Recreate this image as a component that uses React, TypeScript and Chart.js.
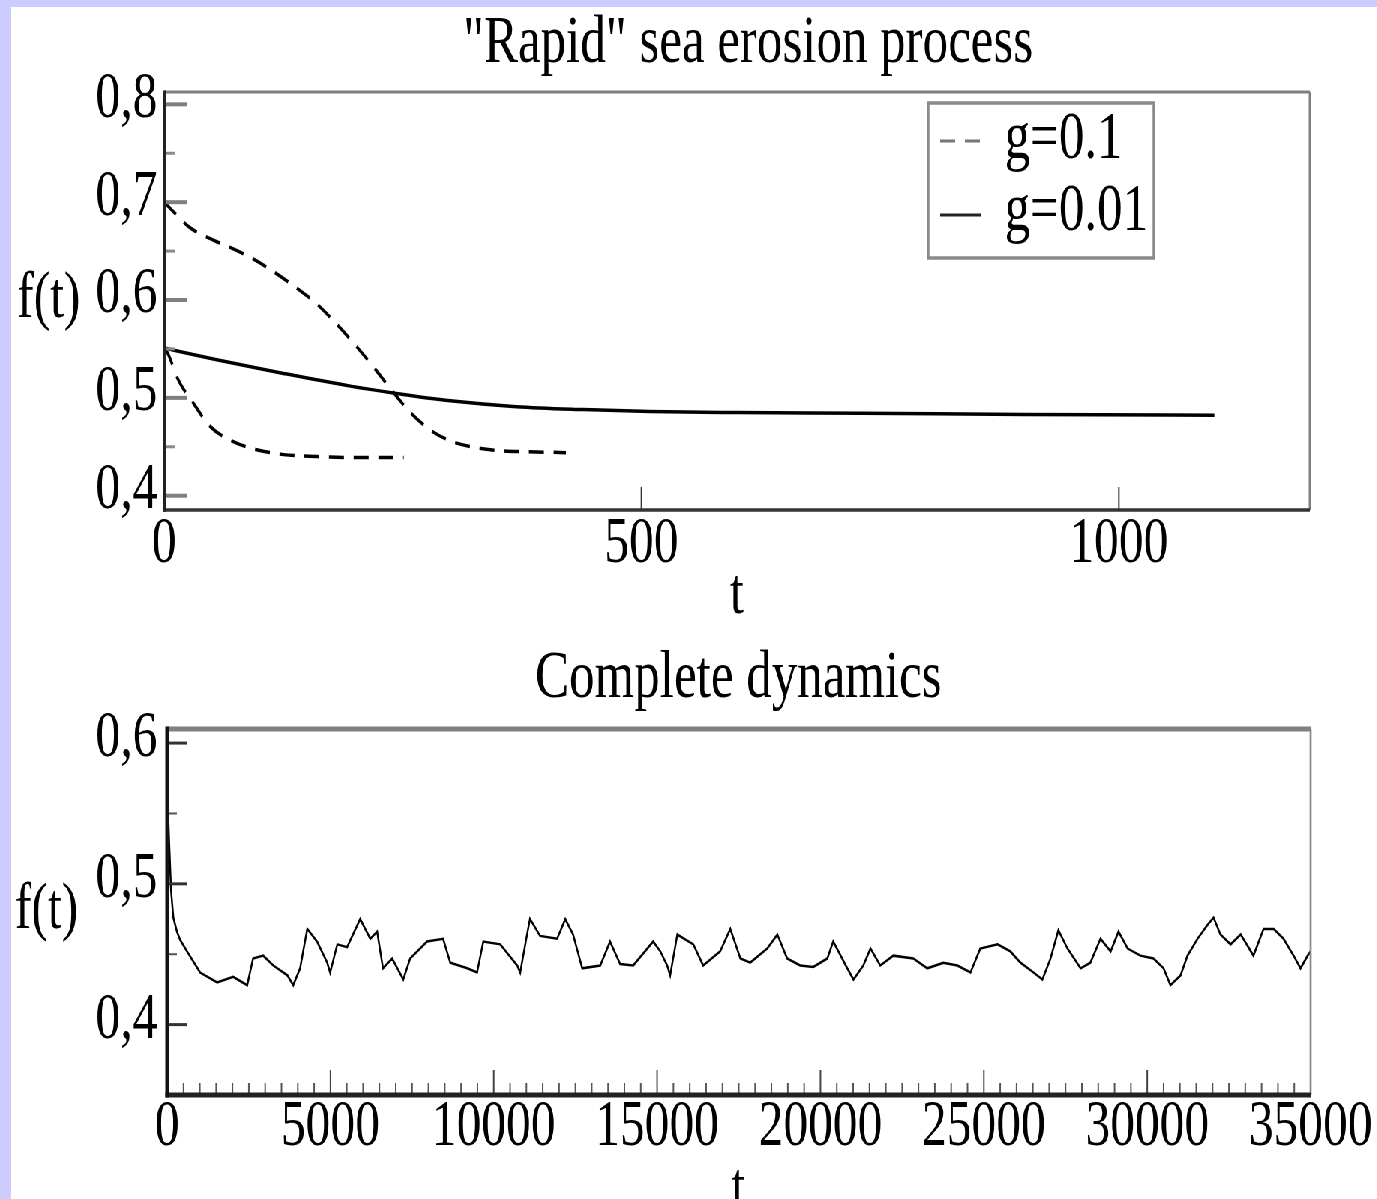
import React, { useEffect, useRef } from "react";
import { Chart, registerables } from "chart.js";

Chart.register(...registerables);

// horizontal compression of the whole figure (the reference is squeezed sideways)
const SX = 0.75;
const CW = 1821;
const TOP_H = 618;
const BOT_H = 574;
const SERIF = '"Liberation Serif", "Times New Roman", Times, serif';

// ---------------- texts ----------------
const rapidTitle = '"Rapid" sea erosion process';
const completeTitle = "Complete dynamics";
const yAxisTitle = "f(t)";
const xAxisTitle = "t";
const seriesLabels = ["g=0.1", "g=0.01"];

// ---------------- top chart: "Rapid" sea erosion process ----------------
const rapidXTicks = [0, 500, 1000];
const rapidYTicks = [0.4, 0.5, 0.6, 0.7, 0.8];

// g = 0.1, starting at 0.70
const g01UpperT = [0, 3, 27, 52, 73, 95, 116, 139, 161, 182, 202, 219, 235, 244, 258, 279, 300, 327, 352, 380, 421];
const g01UpperF = [0.7, 0.697, 0.674, 0.661, 0.652, 0.641, 0.628, 0.612, 0.595, 0.574, 0.552, 0.532, 0.512, 0.501, 0.485, 0.467, 0.456, 0.449, 0.446, 0.445, 0.444];
// g = 0.1, starting at 0.55
const g01LowerT = [0, 4, 15, 31, 48, 73, 97, 125, 160, 195, 251];
const g01LowerF = [0.551, 0.545, 0.518, 0.494, 0.471, 0.455, 0.447, 0.442, 0.44, 0.439, 0.439];
// g = 0.01
const g001T = [0, 55, 125, 195, 240, 300, 369, 439, 509, 600, 730, 900, 1100];
const g001F = [0.551, 0.539, 0.525, 0.512, 0.505, 0.497, 0.491, 0.488, 0.486, 0.485, 0.4843, 0.483, 0.4823];

// ---------------- bottom chart: Complete dynamics ----------------
const completeXTicks = [0, 5000, 10000, 15000, 20000, 25000, 30000, 35000];
const completeYTicks = [0.4, 0.5, 0.6];

const completeT = [
  0, 60, 120, 190, 300, 400, 610, 1010, 1530, 2020,
  2450, 2630, 2940, 3250, 3680, 3860, 4070, 4290, 4590, 4900,
  4990, 5210, 5510, 5910, 6220, 6430, 6610, 6890, 7230, 7440,
  7960, 8450, 8670, 9190, 9490, 9680, 10200, 10720, 10810, 11020,
  11110, 11420, 11940, 12190, 12430, 12710, 13260, 13560, 13870, 14270,
  14880, 15100, 15310, 15400, 15620, 16110, 16410, 16930, 17240, 17550,
  17850, 18370, 18680, 18980, 19380, 19780, 20210, 20390, 20820, 21010,
  21310, 21530, 21830, 22230, 22840, 23270, 23760, 24190, 24590, 24890,
  25420, 25810, 26120, 26520, 26790, 27040, 27280, 27560, 27960, 28260,
  28570, 28880, 29120, 29400, 29790, 30190, 30500, 30710, 31020, 31230,
  31540, 31850, 32030, 32240, 32550, 32860, 33250, 33560, 33870, 34170,
  34480, 34690, 34910, 35000,
];
const completeF = [
  0.572, 0.53, 0.495, 0.476, 0.466, 0.46, 0.452, 0.437, 0.43, 0.434,
  0.428, 0.447, 0.449, 0.442, 0.435, 0.428, 0.44, 0.468, 0.459, 0.444,
  0.437, 0.457, 0.455, 0.475, 0.461, 0.466, 0.44, 0.447, 0.432, 0.447,
  0.459, 0.461, 0.444, 0.44, 0.437, 0.459, 0.457, 0.442, 0.437, 0.464,
  0.475, 0.463, 0.461, 0.475, 0.464, 0.44, 0.442, 0.459, 0.443, 0.442,
  0.459, 0.452, 0.442, 0.435, 0.464, 0.457, 0.442, 0.452, 0.468, 0.447,
  0.444, 0.454, 0.464, 0.447, 0.442, 0.441, 0.447, 0.459, 0.44, 0.432,
  0.442, 0.454, 0.442, 0.449, 0.447, 0.44, 0.444, 0.442, 0.437, 0.454,
  0.457, 0.452, 0.444, 0.437, 0.432, 0.447, 0.467, 0.454, 0.44, 0.444,
  0.461, 0.452, 0.466, 0.454, 0.449, 0.447, 0.44, 0.428, 0.435, 0.449,
  0.461, 0.471, 0.476, 0.464, 0.457, 0.464, 0.449, 0.468, 0.468, 0.461,
  0.449, 0.44, 0.449, 0.452,
];

// ---------------- helpers ----------------
const zip = (xs: number[], ys: number[]) => xs.map((x, i) => ({ x, y: ys[i] }));
const commaFmt = (v: any) => Number(v).toFixed(1).replace(".", ",");

type Stroke = { len: number; width: number; color: string };
type Side = { width: number; color: string };
type FrameCfg = {
  top: Side; left: Side; right: Side; bottom: Side;
  yMajor: Stroke; yMinor: Stroke; yDiv: number;
  xMajor: Stroke; xMinor: Stroke; xDiv: number;
};

function framePlugin(cfg: FrameCfg) {
  return {
    id: "frameTicks",
    afterDatasetsDraw(chart: any) {
      const { ctx, chartArea: a } = chart;
      const xs = chart.scales.x;
      const ys = chart.scales.y;
      ctx.save();
      ctx.lineCap = "butt";
      ctx.setLineDash([]);
      const line = (x0: number, y0: number, x1: number, y1: number, w: number, c: string) => {
        ctx.strokeStyle = c;
        ctx.lineWidth = w;
        ctx.beginPath();
        ctx.moveTo(x0, y0);
        ctx.lineTo(x1, y1);
        ctx.stroke();
      };
      const yv: number[] = ys.ticks.map((t: any) => t.value);
      yv.forEach((v) => {
        const p = ys.getPixelForValue(v);
        line(a.left, p, a.left + cfg.yMajor.len, p, cfg.yMajor.width, cfg.yMajor.color);
      });
      for (let i = 0; i < yv.length - 1; i++) {
        for (let k = 1; k < cfg.yDiv; k++) {
          const p = ys.getPixelForValue(yv[i] + ((yv[i + 1] - yv[i]) * k) / cfg.yDiv);
          line(a.left, p, a.left + cfg.yMinor.len, p, cfg.yMinor.width, cfg.yMinor.color);
        }
      }
      const xv: number[] = xs.ticks.map((t: any) => t.value);
      xv.forEach((v) => {
        const p = xs.getPixelForValue(v);
        if (p - a.left < 3 || a.right - p < 3) return;
        line(p, a.bottom, p, a.bottom - cfg.xMajor.len, cfg.xMajor.width, cfg.xMajor.color);
      });
      if (cfg.xDiv > 1) {
        for (let i = 0; i < xv.length - 1; i++) {
          for (let k = 1; k < cfg.xDiv; k++) {
            const p = xs.getPixelForValue(xv[i] + ((xv[i + 1] - xv[i]) * k) / cfg.xDiv);
            line(p, a.bottom, p, a.bottom - cfg.xMinor.len, cfg.xMinor.width, cfg.xMinor.color);
          }
        }
      }
      line(a.left, a.top, a.right, a.top, cfg.top.width, cfg.top.color);
      line(a.right, a.top, a.right, a.bottom, cfg.right.width, cfg.right.color);
      line(a.left - cfg.left.width / 2, a.bottom, a.right, a.bottom, cfg.bottom.width, cfg.bottom.color);
      line(a.left, a.top - cfg.top.width / 2, a.left, a.bottom + cfg.bottom.width / 2, cfg.left.width, cfg.left.color);
      ctx.restore();
    },
  };
}

type TextItem = { text: string; x: number; y: number; size: number; align: CanvasTextAlign };
function textPlugin(items: TextItem[]) {
  return {
    id: "freeText",
    afterDraw(chart: any) {
      const ctx = chart.ctx;
      ctx.save();
      ctx.fillStyle = "#000";
      ctx.textBaseline = "alphabetic";
      items.forEach((t) => {
        ctx.font = `${t.size}px ${SERIF}`;
        ctx.textAlign = t.align;
        ctx.fillText(t.text, t.x, t.y);
      });
      ctx.restore();
    },
  };
}

type LegendCfg = {
  left: number; top: number; right: number; bottom: number;
  sampleX0: number; sampleX1: number; textX: number;
  rowY: number[]; baseY: number[]; size: number;
};
function boxLegendPlugin(cfg: LegendCfg) {
  return {
    id: "boxLegend",
    afterDraw(chart: any) {
      const ctx = chart.ctx;
      const seen = new Set<string>();
      const entries = chart.data.datasets.filter((d: any) => {
        if (seen.has(d.label)) return false;
        seen.add(d.label);
        return true;
      });
      ctx.save();
      ctx.fillStyle = "#fff";
      ctx.fillRect(cfg.left, cfg.top, cfg.right - cfg.left, cfg.bottom - cfg.top);
      ctx.strokeStyle = "#8a8a8a";
      ctx.lineWidth = 3.5;
      ctx.strokeRect(cfg.left, cfg.top, cfg.right - cfg.left, cfg.bottom - cfg.top);
      entries.forEach((d: any, i: number) => {
        const dashed = Array.isArray(d.borderDash) && d.borderDash.length > 0;
        ctx.setLineDash(dashed ? d.borderDash : []);
        ctx.strokeStyle = dashed ? "#777" : "#222";
        ctx.lineWidth = 3;
        ctx.beginPath();
        ctx.moveTo(cfg.sampleX0, cfg.rowY[i]);
        ctx.lineTo(cfg.sampleX1, cfg.rowY[i]);
        ctx.stroke();
        ctx.setLineDash([]);
        ctx.fillStyle = "#000";
        ctx.font = `${cfg.size}px ${SERIF}`;
        ctx.textAlign = "left";
        ctx.textBaseline = "alphabetic";
        ctx.fillText(d.label, cfg.textX, cfg.baseY[i]);
      });
      ctx.restore();
    },
  };
}

const tickFont = { family: SERIF, size: 66, lineHeight: 1 };

function makeTopConfig(): any {
  const dash = [20, 13];
  return {
    type: "line",
    data: {
      datasets: [
        { label: seriesLabels[0], data: zip(g01UpperT, g01UpperF), borderDash: dash },
        { label: seriesLabels[0], data: zip(g01LowerT, g01LowerF), borderDash: dash },
        { label: seriesLabels[1], data: zip(g001T, g001F) },
      ].map((d) => ({
        ...d,
        borderColor: "#000",
        borderWidth: 3.5,
        pointRadius: 0,
        fill: false,
        cubicInterpolationMode: "monotone",
        borderCapStyle: "butt",
      })),
    },
    options: {
      animation: false,
      responsive: true,
      maintainAspectRatio: false,
      events: [],
      layout: { padding: { left: 0, top: 85, right: 89, bottom: 0 } },
      plugins: { legend: { display: false }, tooltip: { enabled: false }, title: { display: false } },
      scales: {
        x: {
          type: "linear",
          min: 0,
          max: 1200,
          grid: { display: false, drawTicks: false, tickLength: 0 },
          border: { display: false },
          afterBuildTicks: (s: any) => { s.ticks = rapidXTicks.map((value) => ({ value })); },
          afterFit: (s: any) => { s.height = 115; },
          ticks: { font: tickFont, color: "#000", padding: 2, maxRotation: 0, autoSkip: false, callback: (v: any) => String(v) },
        },
        y: {
          type: "linear",
          min: 0.3854,
          max: 0.8126,
          grid: { display: false, drawTicks: false, tickLength: 0 },
          border: { display: false },
          afterBuildTicks: (s: any) => { s.ticks = rapidYTicks.map((value) => ({ value })); },
          afterFit: (s: any) => { s.width = 204; },
          ticks: { font: tickFont, color: "#000", padding: 9, labelOffset: -5, autoSkip: false, callback: commaFmt },
        },
      },
    },
    plugins: [
      framePlugin({
        top: { width: 3, color: "#7f7f7f" },
        left: { width: 4, color: "#222" },
        right: { width: 3, color: "#7f7f7f" },
        bottom: { width: 3.5, color: "#333" },
        yMajor: { len: 30, width: 4, color: "#7f7f7f" },
        yMinor: { len: 15, width: 3, color: "#8a8a8a" },
        yDiv: 2,
        xMajor: { len: 23, width: 2, color: "#333" },
        xMinor: { len: 0, width: 0, color: "#000" },
        xDiv: 1,
      }),
      boxLegendPlugin({
        left: 1223, top: 96, right: 1524, bottom: 251,
        sampleX0: 1239, sampleX1: 1293, textX: 1325,
        rowY: [134, 208], baseY: [151, 223], size: 68,
      }),
      textPlugin([
        { text: rapidTitle, x: 983, y: 55, size: 68, align: "center" },
        { text: yAxisTitle, x: 8, y: 310, size: 66, align: "left" },
        { text: xAxisTitle, x: 968, y: 606, size: 66, align: "center" },
      ]),
    ],
  };
}

function makeBottomConfig(): any {
  return {
    type: "line",
    data: {
      datasets: [
        {
          label: "f(t)",
          data: zip(completeT, completeF),
          borderColor: "#000",
          borderWidth: 2.5,
          pointRadius: 0,
          fill: false,
          tension: 0,
        },
      ],
    },
    options: {
      animation: false,
      responsive: true,
      maintainAspectRatio: false,
      events: [],
      layout: { padding: { left: 0, top: 104, right: 88, bottom: 0 } },
      plugins: { legend: { display: false }, tooltip: { enabled: false }, title: { display: false } },
      scales: {
        x: {
          type: "linear",
          min: 0,
          max: 35000,
          grid: { display: false, drawTicks: false, tickLength: 0 },
          border: { display: false },
          afterBuildTicks: (s: any) => { s.ticks = completeXTicks.map((value) => ({ value })); },
          afterFit: (s: any) => { s.height = 104; },
          ticks: { font: tickFont, color: "#000", padding: 0, maxRotation: 0, autoSkip: false, callback: (v: any) => String(v) },
        },
        y: {
          type: "linear",
          min: 0.35,
          max: 0.61,
          grid: { display: false, drawTicks: false, tickLength: 0 },
          border: { display: false },
          afterBuildTicks: (s: any) => { s.ticks = completeYTicks.map((value) => ({ value })); },
          afterFit: (s: any) => { s.width = 208; },
          ticks: { font: tickFont, color: "#000", padding: 13, labelOffset: -4, autoSkip: false, callback: commaFmt },
        },
      },
    },
    plugins: [
      framePlugin({
        top: { width: 5, color: "#7f7f7f" },
        left: { width: 5, color: "#111" },
        right: { width: 2.7, color: "#888" },
        bottom: { width: 5, color: "#222" },
        yMajor: { len: 26, width: 3, color: "#333" },
        yMinor: { len: 13, width: 2, color: "#555" },
        yDiv: 2,
        xMajor: { len: 25, width: 2, color: "#444" },
        xMinor: { len: 12, width: 2, color: "#555" },
        xDiv: 10,
      }),
      textPlugin([
        { text: completeTitle, x: 970, y: 72, size: 68, align: "center" },
        { text: yAxisTitle, x: 5, y: 303, size: 66, align: "left" },
        { text: xAxisTitle, x: 970, y: 582, size: 66, align: "center" },
      ]),
    ],
  };
}

export default function App() {
  const topRef = useRef<HTMLCanvasElement>(null);
  const botRef = useRef<HTMLCanvasElement>(null);

  useEffect(() => {
    const c1 = new Chart(topRef.current as HTMLCanvasElement, makeTopConfig());
    const c2 = new Chart(botRef.current as HTMLCanvasElement, makeBottomConfig());
    return () => {
      c1.destroy();
      c2.destroy();
    };
  }, []);

  return (
    <div
      style={{
        position: "fixed",
        left: 0,
        top: 0,
        width: 1377,
        height: 1199,
        background: "#ccccff",
        overflow: "hidden",
      }}
    >
      <div
        style={{
          position: "absolute",
          left: 11,
          top: 7,
          width: 1366,
          height: 1192,
          background: "#ffffff",
          overflow: "hidden",
        }}
      >
        <div
          style={{
            position: "absolute",
            left: 0,
            top: 0,
            width: CW,
            height: TOP_H + BOT_H,
            transform: `scaleX(${SX})`,
            transformOrigin: "0 0",
          }}
        >
          <div style={{ position: "relative", width: CW, height: TOP_H }}>
            <canvas ref={topRef} />
          </div>
          <div style={{ position: "relative", width: CW, height: BOT_H }}>
            <canvas ref={botRef} />
          </div>
        </div>
      </div>
    </div>
  );
}
